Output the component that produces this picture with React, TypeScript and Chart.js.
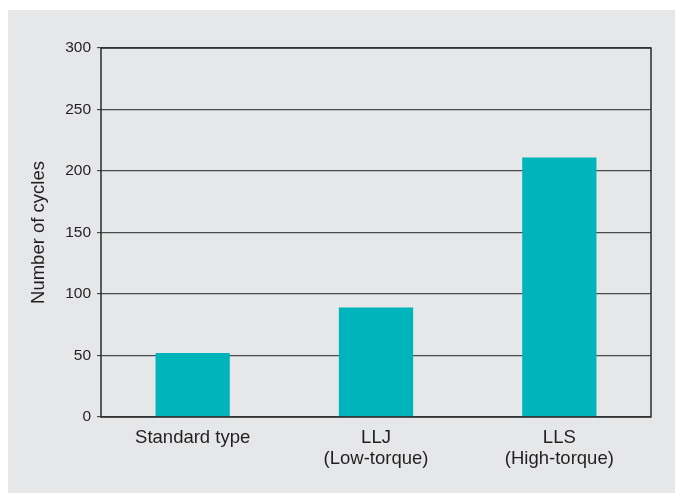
import React, { useEffect, useRef } from "react";
import { Chart, registerables } from "chart.js";

Chart.register(...registerables);

const categories: string[][] = [["Standard type"], ["LLJ", "(Low-torque)"], ["LLS", "(High-torque)"]];
const cycles: number[] = [52, 89, 211];
const yTicks: number[] = [0, 50, 100, 150, 200, 250, 300];
const yTitle = "Number of cycles";

const FONT = "'Liberation Sans', Arial, Helvetica, sans-serif";

const frame = {
  id: "frame",
  afterDatasetsDraw(chart: any) {
    const { ctx, chartArea: a } = chart;
    ctx.save();
    ctx.strokeStyle = "#2b2b2b";
    ctx.lineWidth = 1.5;
    ctx.strokeRect(a.left, a.top, a.right - a.left, a.bottom - a.top);
    ctx.restore();
  },
};

export default function App() {
  const ref = useRef<HTMLCanvasElement | null>(null);
  useEffect(() => {
    if (!ref.current) return;
    const chart = new Chart(ref.current, {
      type: "bar",
      data: {
        labels: categories,
        datasets: [
          {
            data: cycles,
            backgroundColor: "#00b4bc",
            borderWidth: 0,
            barPercentage: 0.405,
            categoryPercentage: 1,
          },
        ],
      },
      options: {
        responsive: false,
        animation: false,
        layout: { padding: { top: 38, right: 24, left: 0, bottom: 0 } },
        plugins: { legend: { display: false }, tooltip: { enabled: false } },
        scales: {
          x: {
            grid: { display: false, drawTicks: false },
            border: { display: false },
            ticks: {
              padding: 10,
              color: "#231f20",
              font: { family: FONT, size: 18.5, lineHeight: 1.16 },
              maxRotation: 0,
              autoSkip: false,
            },
            afterFit: (s: any) => {
              s.height = 76;
            },
          },
          y: {
            min: 0,
            max: 300,
            afterBuildTicks: (s: any) => {
              s.ticks = yTicks.map((v) => ({ value: v }));
            },
            grid: { color: "#4a4a4a", lineWidth: 1.2, tickLength: 4, drawTicks: true },
            border: { display: false },
            ticks: {
              padding: 6,
              color: "#231f20",
              font: { family: FONT, size: 15.5 },
            },
            title: {
              display: true,
              text: yTitle,
              color: "#231f20",
              font: { family: FONT, size: 18.5 },
              padding: { top: 20, bottom: 0 },
            },
            afterFit: (s: any) => {
              s.width = 93;
            },
          },
        },
      },
      plugins: [frame],
    });
    return () => chart.destroy();
  }, []);
  return (
    <div
      style={{
        position: "fixed",
        left: 8,
        top: 10,
        width: 667,
        height: 483,
        background: "#e6e7e8",
      }}
    >
      <canvas ref={ref} width={667} height={483} style={{ display: "block" }} />
    </div>
  );
}
